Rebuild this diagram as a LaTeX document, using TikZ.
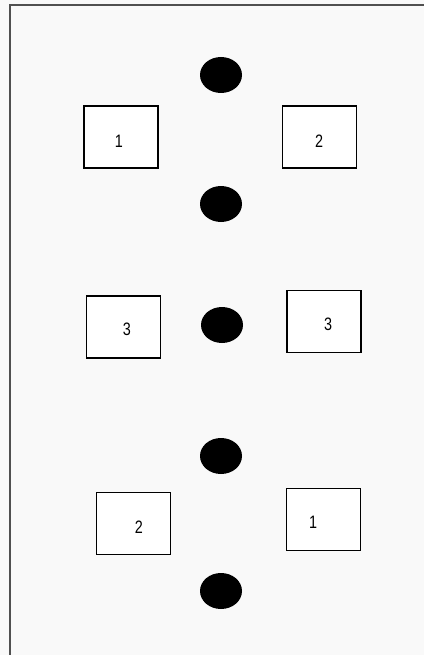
\documentclass[tikz,border=0pt]{standalone}
\usepackage{fontspec}
\setmainfont{Liberation Sans}
\usetikzlibrary{shapes.geometric}
\definecolor{bgcol}{HTML}{F9F9F9}
\definecolor{framecol}{HTML}{505050}
\begin{document}
\begin{tikzpicture}[x=1pt,y=-1pt,
  box/.style={draw=black,line width=1.4pt,fill=white,minimum width=74pt,minimum height=62pt,inner sep=0pt},
  dot/.style={ellipse,fill=black,minimum width=42pt,minimum height=36pt,inner sep=0pt},
  lbl/.style={font=\fontsize{18}{18}\selectfont,inner sep=0pt,xscale=0.8}]
\useasboundingbox (0,0) rectangle (424,655);
\fill[bgcol] (0,0) rectangle (424,655);
\draw[framecol,line width=2pt] (10,655) -- (10,5) -- (424,5);
% dots
\node[dot] (d1) at (221,75) {};
\node[dot] (d2) at (221,204) {};
\node[dot] (d3) at (222,325) {};
\node[dot] (d4) at (221,456) {};
\node[dot] (d5) at (221,591) {};
% boxes
\node[box] (b1) at (121,137) {};
\node[box] (b2) at (319.5,137) {};
\node[box] (b3) at (123.5,327) {};
\node[box] (b4) at (324,321.5) {};
\node[box] (b5) at (133.5,523.5) {};
\node[box] (b6) at (323.5,519.5) {};
% labels
\node[lbl] (t1) at (119,141) {1};
\node[lbl] (t2) at (319,141) {2};
\node[lbl] (t3) at (127,329) {3};
\node[lbl] (t4) at (328,324) {3};
\node[lbl] (t5) at (139,527) {2};
\node[lbl] (t6) at (313,522) {1};
\end{tikzpicture}
\end{document}
